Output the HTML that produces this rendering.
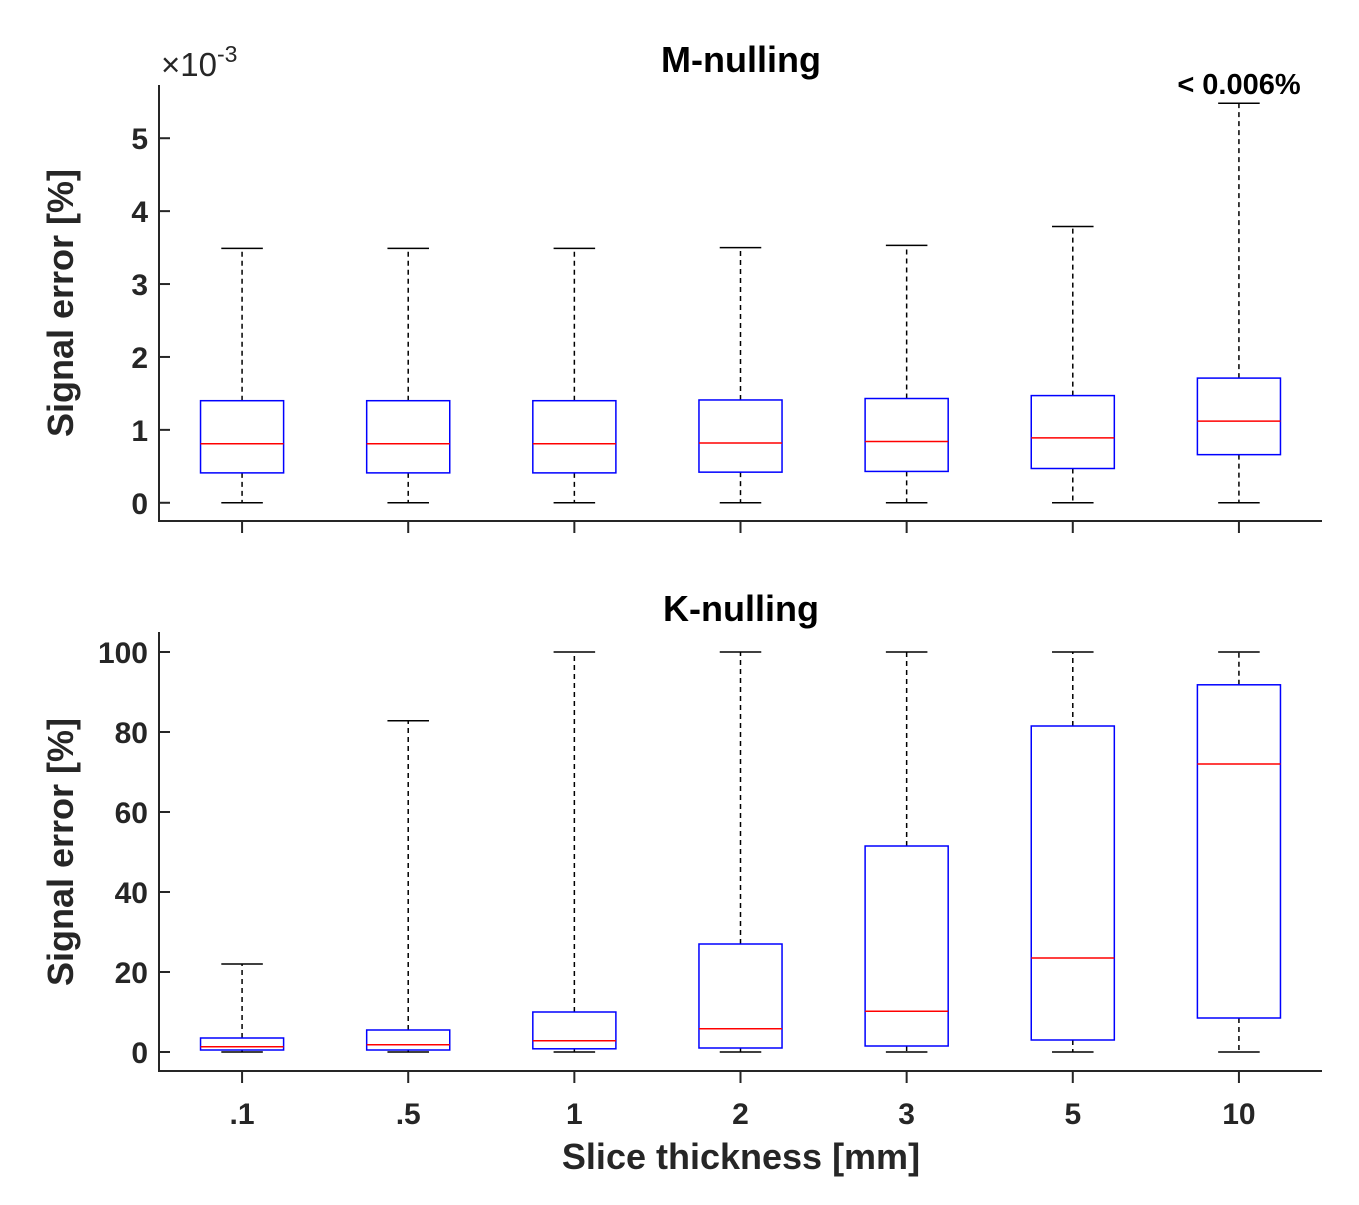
<!DOCTYPE html>
<html><head><meta charset="utf-8"><style>
html,body{margin:0;padding:0;background:#fff;}
svg text{font-family:"Liberation Sans",Arial,sans-serif;font-weight:bold;fill:#262626;}
</style></head><body>
<svg id="chart" width="1359" height="1200" xmlns="http://www.w3.org/2000/svg"></svg>
<script>
const categories = [".1", ".5", "1", "2", "3", "5", "10"];
// M-nulling (x1e-3)
const mLow = [0, 0, 0, 0, 0, 0, 0];
const mQ1 = [0.41, 0.41, 0.41, 0.42, 0.43, 0.47, 0.66];
const mMed = [0.81, 0.81, 0.81, 0.82, 0.84, 0.89, 1.12];
const mQ3 = [1.40, 1.40, 1.40, 1.41, 1.43, 1.47, 1.71];
const mHigh = [3.49, 3.49, 3.49, 3.50, 3.53, 3.79, 5.48];
const mTicks = [0, 1, 2, 3, 4, 5];
// K-nulling
const kLow = [0, 0, 0, 0, 0, 0, 0];
const kQ1 = [0.5, 0.5, 0.8, 1, 1.5, 3, 8.5];
const kMed = [1.3, 1.8, 2.8, 5.8, 10.2, 23.5, 72];
const kQ3 = [3.5, 5.5, 10, 27, 51.5, 81.5, 91.8];
const kHigh = [22, 82.8, 100, 100, 100, 100, 100];
const kTicks = [0, 20, 40, 60, 80, 100];

const NS = "http://www.w3.org/2000/svg";
const svg = document.getElementById("chart");
function mk(tag, attrs, parent) {
  const e = document.createElementNS(NS, tag);
  for (const k in attrs) e.setAttribute(k, attrs[k]);
  (parent || svg).appendChild(e);
  return e;
}
const X0 = 159, X1 = 1322;
const xs = i => X0 + (i + 1 - 0.5) / 7 * (X1 - X0);
const unit = (X1 - X0) / 7;

function panel(name, top, bottom, ymin, ymax, ticks, low, q1, med, q3, high, showX) {
  const g = mk("g", {});
  
  
  const ys = v => bottom - (v - ymin) / (ymax - ymin) * (bottom - top);
  const ax = mk("path", {d: `M${X0} ${top}V${bottom}H${X1}`, fill: "none", stroke: "#262626", "stroke-width": 2}, g);
  
  
  ticks.forEach(t => {
    const y = ys(t);
    const tl = mk("line", {x1: X0, x2: X0 + 11, y1: y, y2: y, stroke: "#262626", "stroke-width": 2}, g);
    
    
    const tx = mk("text", {x: X0 - 11, y: y + 11, "font-size": 30, "text-anchor": "end"}, g);
    tx.textContent = t;
    
    
  });
  categories.forEach((c, i) => {
    const x = xs(i);
    const tk = mk("line", {x1: x, x2: x, y1: bottom, y2: bottom + 12, stroke: "#262626", "stroke-width": 2}, g);
    
    
    if (showX) {
      const tx = mk("text", {x: x, y: bottom + 53, "font-size": 30, "text-anchor": "middle"}, g);
      tx.textContent = c;
      
      
    }
    const bw = unit * 0.25, cw = unit * 0.125;
    const w1 = mk("line", {x1: x, x2: x, y1: ys(q3[i]), y2: ys(high[i]), stroke: "#000", "stroke-width": 1.5, "stroke-dasharray": "5,4"}, g);
    
    
    const w2 = mk("line", {x1: x, x2: x, y1: ys(q1[i]), y2: ys(low[i]), stroke: "#000", "stroke-width": 1.5, "stroke-dasharray": "5,4"}, g);
    
    
    [high[i], low[i]].forEach(v => {
      const cap = mk("line", {x1: x - cw, x2: x + cw, y1: ys(v), y2: ys(v), stroke: "#000", "stroke-width": 1.5}, g);
      
      
    });
    const box = mk("rect", {x: x - bw, y: ys(q3[i]), width: 2 * bw, height: ys(q1[i]) - ys(q3[i]), fill: "none", stroke: "#0000ff", "stroke-width": 1.5}, g);
    
    
    const md = mk("line", {x1: x - bw, x2: x + bw, y1: ys(med[i]), y2: ys(med[i]), stroke: "#ff0000", "stroke-width": 1.5}, g);
    
    
  });
  return ys;
}
panel("m-nulling", 85, 521, -0.25, 5.73, mTicks, mLow, mQ1, mMed, mQ3, mHigh, false);
panel("k-nulling", 632, 1071, -4.75, 105, kTicks, kLow, kQ1, kMed, kQ3, kHigh, true);

function txt(s, attrs, name) {
  const t = mk("text", attrs);
  t.textContent = s;
  
  
  return t;
}
txt("M-nulling", {x: 741, y: 72, "font-size": 36, "text-anchor": "middle", style: "fill:#000"}, "m-nulling-title");
txt("K-nulling", {x: 741, y: 621, "font-size": 36, "text-anchor": "middle", style: "fill:#000"}, "k-nulling-title");
txt("< 0.006%", {x: 1239, y: 94, "font-size": 29, "text-anchor": "middle", style: "fill:#000"}, "annotation-max");
const ex = mk("text", {x: 161, y: 76, "font-size": 33, style: "font-weight:normal"});
ex.innerHTML = '×10<tspan dy="-14" font-size="23">-3</tspan>';


txt("Signal error [%]", {x: 0, y: 0, "font-size": 36, "text-anchor": "middle", transform: "translate(73,303) rotate(-90)"}, "m-y-axis-title");
txt("Signal error [%]", {x: 0, y: 0, "font-size": 36, "text-anchor": "middle", transform: "translate(73,852) rotate(-90)"}, "k-y-axis-title");
txt("Slice thickness [mm]", {x: 741, y: 1169, "font-size": 36, "text-anchor": "middle"}, "x-axis-title");
</script>
</body></html>
